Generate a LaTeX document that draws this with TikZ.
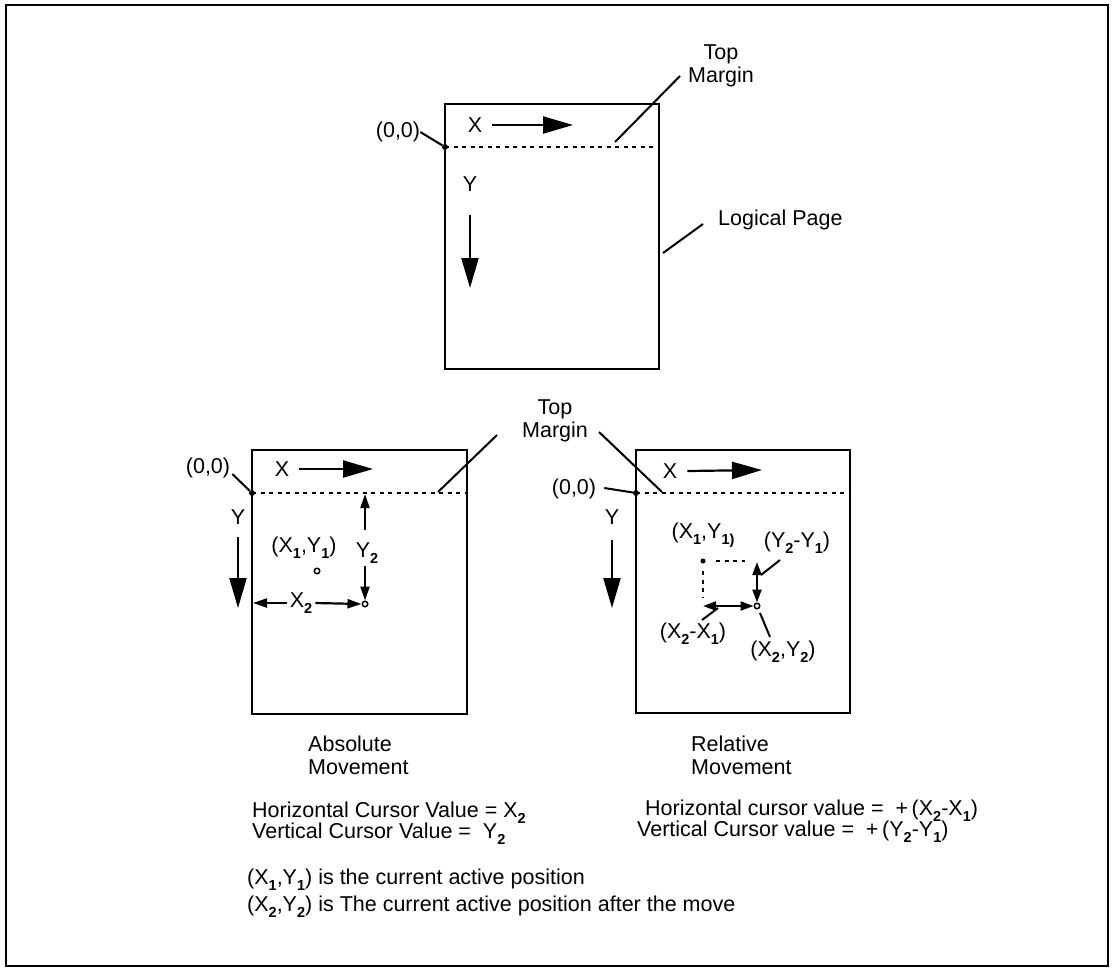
\documentclass[tikz,border=0pt]{standalone}
\usepackage{fontspec}
\setmainfont{Liberation Sans}
\usetikzlibrary{arrows.meta}
\newcommand\sbx[1]{\raisebox{-0.5ex}{\fontsize{14.5}{14.5}\selectfont\bfseries #1}}
\begin{document}
\begin{tikzpicture}[x=1pt,y=-1pt,
 txt/.style={inner sep=0pt, font=\fontsize{21.5}{23}\selectfont},
 page/.style={line width=2.8pt},
 margin/.style={line width=2.5pt, dash pattern=on 4pt off 4.5pt},
 lead/.style={line width=2pt},
 bigarrow/.style={line width=2.2pt, -{Triangle[length=30pt,width=17pt]}},
 smallarrow/.style={line width=2.2pt, -{Triangle[length=14pt,width=9pt]}},
 dblarrow/.style={line width=2.2pt, {Triangle[length=13pt,width=9pt]}-{Triangle[length=13pt,width=9pt]}},
 dotc/.style={circle, fill, inner sep=0pt, minimum size=6pt},
 ring/.style={circle, draw, line width=1.5pt, fill=white, inner sep=0pt, minimum size=5.5pt},
]
\useasboundingbox (0,0) rectangle (1115,972);
\draw[line width=2.4pt] (6,5) rectangle (1108,966);

% ---------- top page ----------
\draw[page] (445,104) rectangle (659,369);
\coordinate (m1a) at (445,147);
\coordinate (m1b) at (659,147);
\draw[margin] (m1a) -- (m1b);
\node[dotc] (o1) at (m1a) {};
\node[txt] (o1l) at (398,132) {(0,0)};
\draw[lead] (o1l.east) -- (o1);
\node[txt] (x1) at (475,125) {X};
\coordinate (x1e) at (573,125);
\draw[bigarrow] (x1.east) ++(10,0) -- (x1e);
\node[txt] (y1) at (470,184) {Y};
\coordinate (y1s) at (470,215);
\coordinate (y1e) at (470,288);
\draw[bigarrow] (y1s) -- (y1e);
\node[txt, align=center] (tm1) at (721,66) {Top\\Margin};
\coordinate (tm1p) at (615,142);
\coordinate (tm1q) at (680,76);
\draw[lead] (tm1p) -- (tm1q);
\node[txt, anchor=west] (lp) at (718,220) {Logical Page};
\coordinate (lpa) at (663,253);
\coordinate (lpb) at (703,224);
\draw[lead] (lpa) -- (lpb);

% ---------- left page ----------
\draw[page] (252,450) rectangle (467,714);
\coordinate (m2a) at (252,493);
\coordinate (m2b) at (467,493);
\draw[margin] (m2a) -- (m2b);
\node[dotc] (o2) at (m2a) {};
\node[txt] (o2l) at (208,468) {(0,0)};
\draw[lead] (o2l.east) ++(2,6) -- (o2);
\node[txt] (x2) at (282,469) {X};
\coordinate (x2e) at (373,469);
\draw[bigarrow] (x2.east) ++(10,0) -- (x2e);
\node[txt] (y2) at (238,517) {Y};
\coordinate (y2s) at (238,537);
\coordinate (y2e) at (238,608);
\draw[bigarrow] (y2s) -- (y2e);
\node[txt, align=center] (tm2) at (555,421) {Top\\Margin};
\coordinate (tm2p) at (438,492);
\coordinate (tm2q) at (497,435);
\draw[lead] (tm2p) -- (tm2q);
\coordinate (tm3p) at (599,432);
\coordinate (tm3q) at (662,492);
\draw[lead] (tm3p) -- (tm3q);

\node[txt] (a1l) at (304,548) {(X\sbx{1},Y\sbx{1})};
\node[ring] (a1) at (317,571) {};
\node[txt] (ay2) at (367,553) {Y\sbx{2}};
\node[ring] (a2) at (365,604) {};
\coordinate (ay2t) at (365,494);
\draw[smallarrow] (365,530) -- (ay2t);
\draw[smallarrow] (365,566) -- (a2.north);
\node[txt] (ax2) at (301,603) {X\sbx{2}};
\coordinate (ax2l) at (253,603);
\draw[smallarrow] (ax2.west) ++(-3,0) -- (ax2l);
\draw[smallarrow] (ax2.east) ++(3,0) -- (a2.west);

% ---------- right page ----------
\draw[page] (636,450) rectangle (850,713);
\coordinate (m3a) at (636,493);
\coordinate (m3b) at (850,493);
\draw[margin] (m3a) -- (m3b);
\node[dotc] (o3) at (m3a) {};
\node[txt] (o3l) at (574,489) {(0,0)};
\draw[lead] (o3l.east) ++(8,-1) -- (o3);
\node[txt] (x3) at (670,471) {X};
\coordinate (x3e) at (762,470);
\draw[bigarrow] (x3.east) ++(10,0) -- (x3e);
\node[txt] (y3) at (612,517) {Y};
\coordinate (y3s) at (612,540);
\coordinate (y3e) at (612,608);
\draw[bigarrow] (y3s) -- (y3e);

\node[txt] (r1l) at (703,535) {(X\sbx{1},Y\sbx{1)}};
\node[dotc, minimum size=5pt] (r1) at (703,561) {};
\coordinate (r1h) at (745,561);
\draw[margin] (r1) ++(13,0) -- (r1h);
\coordinate (r1v) at (703,598);
\draw[margin] (r1) ++(0,10) -- (r1v);
\node[ring] (r2) at (757,606) {};
\coordinate (r2t) at (757,562);
\draw[dblarrow] (r2t) -- (r2.north);
\coordinate (r2l) at (703,606);
\draw[dblarrow] (r2l) -- (r2.west);
\node[txt] (dyl) at (797,543) {(Y\sbx{2}-Y\sbx{1})};
\coordinate (dyp) at (780,560);
\coordinate (dyq) at (761,575);
\draw[lead] (dyp) -- (dyq);
\node[txt] (dxl) at (693,634) {(X\sbx{2}-X\sbx{1})};
\coordinate (dxp) at (702,620);
\coordinate (dxq) at (718,608);
\draw[lead] (dxp) -- (dxq);
\node[txt] (x2y2) at (783,652) {(X\sbx{2},Y\sbx{2})};
\coordinate (xyp) at (770,637);
\coordinate (xyq) at (760,613);
\draw[lead] (xyp) -- (xyq);

% ---------- captions ----------
\node[txt, anchor=west, align=left] (absm) at (308,755) {Absolute\\Movement};
\node[txt, anchor=west, align=left] (relm) at (691,755) {Relative\\Movement};

\node[txt, anchor=west] (h1) at (252,813) {Horizontal Cursor Value = X\sbx{2}};
\node[txt, anchor=west] (v1) at (252,834) {Vertical Cursor Value = ~Y\sbx{2}};
\node[txt, anchor=west] (h2) at (645,811) {Horizontal cursor value = ~+\,(X\sbx{2}-X\sbx{1})};
\node[txt, anchor=west] (v2) at (637,832) {Vertical Cursor value = ~+\,(Y\sbx{2}-Y\sbx{1})};

\node[txt, anchor=west] (n1) at (247,880) {(X\sbx{1},Y\sbx{1}) is the current active position};
\node[txt, anchor=west] (n2) at (247,907) {(X\sbx{2},Y\sbx{2}) is The current active position after the move};
\end{tikzpicture}
\end{document}
